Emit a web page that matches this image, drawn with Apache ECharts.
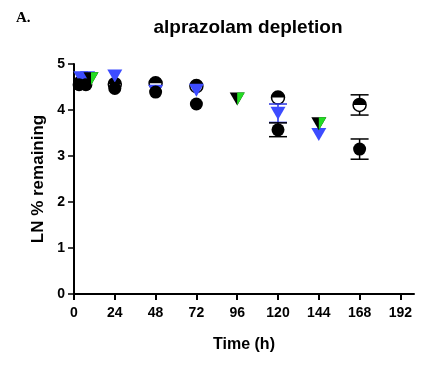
<!DOCTYPE html>
<html><head><meta charset="utf-8">
<script src="https://cdn.jsdelivr.net/npm/echarts@6/dist/echarts.min.js"></script>
<style>html,body{margin:0;padding:0;background:#fff}#c{width:431px;height:374px}</style>
</head><body><div id="c"></div>
<script>
const xTicks = [0, 24, 48, 72, 96, 120, 144, 168, 192];
const yTicks = [0, 1, 2, 3, 4, 5];

const filledT = [3, 7, 24, 48, 72, 120, 168];
const filledV = [4.55, 4.55, 4.47, 4.39, 4.13, 3.57, 3.15];
const filledErr = [0, 0, 0, 0, 0, 0.15, 0.22];

const halfT = [4, 24, 48, 72, 120, 168];
const halfV = [4.6, 4.56, 4.58, 4.52, 4.27, 4.11];
const halfErr = [0, 0, 0, 0, 0, 0.22];

const blueT = [4, 8, 24, 48, 72, 120, 144];
const blueV = [4.7, 4.7, 4.74, 4.41, 4.43, 3.93, 3.47];
const blueErr = [0, 0, 0, 0, 0, 0.2, 0];

const greenT = [10, 96, 144];
const greenV = [4.68, 4.24, 3.70];

const pts = (t, v) => t.map((x, i) => [x, v[i]]);
const errs = (t, v, e) => t.map((x, i) => [x, v[i] - e[i], v[i] + e[i]]).filter((d, i) => e[i] > 0);

function errSeries(data, color, z) {
  return {
    type: 'custom', z: z, silent: true,
    renderItem: function (params, api) {
      const x = api.value(0);
      const lo = api.coord([x, api.value(1)]);
      const hi = api.coord([x, api.value(2)]);
      const w = 9;
      const st = { stroke: color, lineWidth: 1.5 };
      return { type: 'group', children: [
        { type: 'line', shape: { x1: lo[0], y1: lo[1], x2: hi[0], y2: hi[1] }, style: st },
        { type: 'line', shape: { x1: lo[0] - w, y1: lo[1], x2: lo[0] + w, y2: lo[1] }, style: st },
        { type: 'line', shape: { x1: hi[0] - w, y1: hi[1], x2: hi[0] + w, y2: hi[1] }, style: st }
      ]};
    },
    encode: { x: 0, y: [1, 2] },
    data: data
  };
}

const invTri = 'path://M0,0 L20,0 L10,17 Z';
const rightHalfTri = 'path://M0,0 L10,0 L0,17 Z';
const topHalfDisk = 'path://M0,10 A10,10 0 0 1 20,10 Z';
const bold = { fontFamily: 'Liberation Sans, Arial, sans-serif', fontWeight: 'bold', color: '#000' };

const chart = echarts.init(document.getElementById('c'), null, { renderer: 'canvas' });
chart.setOption({
  animation: false,
  backgroundColor: '#fff',
  title: [
    { text: 'alprazolam depletion', left: 243, top: 13, textAlign: 'center',
      textStyle: Object.assign({}, bold, { fontSize: 19 }) },
    { text: 'A.', left: 11, top: 6,
      textStyle: { fontFamily: 'Liberation Serif, Times New Roman, serif', fontWeight: 'bold', fontSize: 15, color: '#000' } }
  ],
  grid: { left: 74, top: 64, right: 17, bottom: 80, containLabel: false },
  xAxis: {
    type: 'value', min: 0, max: 200,
    name: 'Time (h)', nameLocation: 'middle', nameGap: 43,
    nameTextStyle: Object.assign({}, bold, { fontSize: 16 }),
    axisLine: { lineStyle: { color: '#000', width: 2 } },
    axisTick: { show: true, length: 6, lineStyle: { color: '#000', width: 2 }, customValues: xTicks },
    axisLabel: Object.assign({}, bold, { fontSize: 14, margin: 12, customValues: xTicks }),
    splitLine: { show: false }
  },
  yAxis: {
    type: 'value', min: 0, max: 5, interval: 1,
    name: 'LN % remaining', nameLocation: 'middle', nameGap: 27,
    nameTextStyle: Object.assign({}, bold, { fontSize: 17 }),
    axisLine: { show: true, lineStyle: { color: '#000', width: 2 } },
    axisTick: { show: true, length: 6, lineStyle: { color: '#000', width: 1.5 } },
    axisLabel: Object.assign({}, bold, { fontSize: 14, margin: 9, formatter: v => yTicks.includes(v) ? String(v) : '' }),
    splitLine: { show: false }
  },
  series: [
    errSeries(errs(halfT, halfV, halfErr), '#000', 1),
    { type: 'scatter', z: 2, data: pts(halfT, halfV), symbol: 'circle', symbolSize: 13,
      itemStyle: { color: '#fff', borderColor: '#000', borderWidth: 1.5, opacity: 1 } },
    { type: 'scatter', z: 3, data: pts(halfT, halfV), symbol: topHalfDisk, symbolSize: [13, 6.5],
      symbolOffset: [0, '-50%'], itemStyle: { color: '#000', opacity: 1 } },
    errSeries(errs(blueT, blueV, blueErr), '#2b35e0', 4),
    { type: 'scatter', z: 5, data: pts(blueT, blueV), symbol: invTri, symbolSize: [15, 13],
      itemStyle: { color: '#3d4cff', opacity: 1 } },
    errSeries(errs(filledT, filledV, filledErr), '#000', 6),
    { type: 'scatter', z: 7, data: pts(filledT, filledV), symbol: 'circle', symbolSize: 13,
      itemStyle: { color: '#000', opacity: 1 } },
    { type: 'scatter', z: 8, data: pts(greenT, greenV), symbol: invTri, symbolSize: [15, 13],
      itemStyle: { color: '#000', opacity: 1 } },
    { type: 'scatter', z: 9, data: pts(greenT, greenV), symbol: rightHalfTri, symbolSize: [7.5, 13],
      symbolOffset: ['50%', 0], itemStyle: { color: '#22dd22', opacity: 1 } }
  ]
});
</script></body></html>
